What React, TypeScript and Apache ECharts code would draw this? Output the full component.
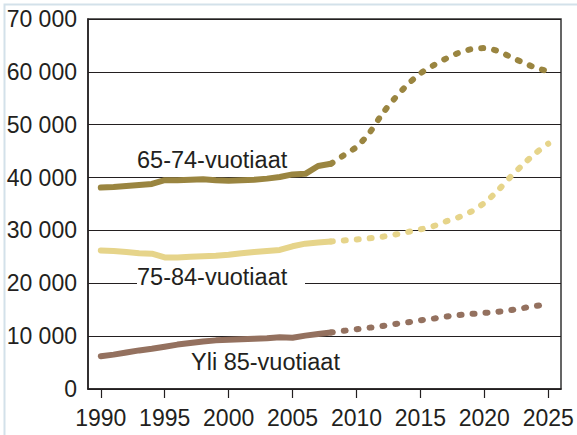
import React, { useEffect, useRef } from "react";
import * as echarts from "echarts";

const years = [1990, 1991, 1992, 1993, 1994, 1995, 1996, 1997, 1998, 1999, 2000, 2001, 2002, 2003, 2004, 2005, 2006, 2007, 2008, 2009, 2010, 2011, 2012, 2013, 2014, 2015, 2016, 2017, 2018, 2019, 2020, 2021, 2022, 2023, 2024, 2025];
const lastActualYear = 2008;

const age65_74 = [38100, 38200, 38400, 38600, 38800, 39500, 39500, 39600, 39700, 39500, 39400, 39500, 39600, 39800, 40100, 40600, 40700, 42200, 42600, 44200, 45800, 48400, 52000, 55000, 57600, 59700, 61200, 62500, 63600, 64300, 64500, 64000, 62900, 61800, 60800, 60100];
const age75_84 = [26200, 26100, 25900, 25700, 25600, 24900, 24900, 25000, 25100, 25200, 25400, 25700, 25900, 26100, 26300, 27000, 27500, 27700, 27900, 28100, 28300, 28500, 28800, 29200, 29700, 30200, 30800, 31700, 32500, 33600, 35200, 37400, 40000, 42400, 44600, 46400];
const age85plus = [6200, 6500, 6900, 7300, 7600, 8000, 8400, 8700, 9000, 9200, 9300, 9400, 9500, 9600, 9800, 9700, 10100, 10400, 10700, 11000, 11300, 11600, 11900, 12300, 12600, 13000, 13300, 13700, 14000, 14200, 14400, 14600, 14900, 15300, 15700, 16000];

const xTicks = [1990, 1995, 2000, 2005, 2010, 2015, 2020, 2025];
const seriesNames = ["65-74-vuotiaat", "75-84-vuotiaat", "Yli 85-vuotiaat"];
const seriesColors = ["#9a8540", "#e6d48a", "#94715f"];

const FONT = "'Liberation Sans', Arial, Helvetica, sans-serif";
const TEXT = "#231f20";

function actual(values: number[]) {
  return years.filter((y) => y <= lastActualYear).map((y, i) => [y, values[i]]);
}
function forecast(values: number[]) {
  return years
    .map((y, i) => [y, values[i]])
    .filter((p) => p[0] >= lastActualYear);
}

export default function App() {
  const ref = useRef<HTMLDivElement>(null);
  useEffect(() => {
    if (!ref.current) return;
    const chart = echarts.init(ref.current, null, { renderer: "svg" });
    const all = [age65_74, age75_84, age85plus];
    const series: any[] = [];
    all.forEach((vals, k) => {
      series.push({
        type: "line",
        name: seriesNames[k],
        data: actual(vals),
        showSymbol: false,
        symbol: "none",
        lineStyle: { color: seriesColors[k], width: 6, cap: "round", join: "round" },
        z: 3,
      });
      series.push({
        type: "line",
        name: seriesNames[k] + " ennuste",
        data: forecast(vals),
        showSymbol: false,
        symbol: "none",
        smooth: 0.3,
        lineStyle: { color: seriesColors[k], width: 6, type: [2, 11], cap: "round", join: "round" },
        z: 3,
      });
    });
    chart.setOption({
      animation: false,
      backgroundColor: "#ffffff",
      grid: {
        left: 88,
        right: 16,
        top: 19,
        bottom: 46,
        show: true,
        borderColor: "#333333",
        borderWidth: 1.5,
        backgroundColor: "transparent",
      },
      xAxis: {
        type: "value",
        min: 1989,
        max: 2026,
        axisLine: { show: true, lineStyle: { color: TEXT, width: 1.5 } },
        axisTick: { show: true, length: 9, customValues: xTicks, lineStyle: { color: TEXT, width: 1.2 } },
        axisLabel: {
          customValues: xTicks,
          margin: 17,
          fontSize: 23,
          fontFamily: FONT,
          color: TEXT,
          formatter: (v: number) => String(v),
        },
        splitLine: { show: false },
      },
      yAxis: {
        type: "value",
        min: 0,
        max: 70000,
        interval: 10000,
        axisLine: { show: true, lineStyle: { color: TEXT, width: 1.5 } },
        axisTick: { show: false },
        axisLabel: {
          margin: 11,
          fontSize: 23,
          fontFamily: FONT,
          color: TEXT,
          padding: [4, 0, 0, 0],
          formatter: (v: number) => (v === 0 ? "0" : String(v).replace(/\B(?=(\d{3})+(?!\d))/g, " ")),
        },
        splitLine: { show: true, lineStyle: { color: TEXT, width: 1.2 } },
      },
      graphic: [
        {
          type: "rect",
          z: 0,
          shape: { x: 4.5, y: 4.5, width: 700, height: 700 },
          style: { fill: "none", stroke: "#d3e1ea", lineWidth: 2 },
          silent: true,
        },
        {
          type: "rect",
          z: 100,
          shape: { x: 137, y: 266, width: 168, height: 24 },
          style: { fill: "#ffffff" },
          silent: true,
        },
        {
          type: "text",
          z: 101,
          style: { x: 137, y: 160, text: seriesNames[0], font: `23.5px ${FONT}`, fill: TEXT, textVerticalAlign: "middle" },
        },
        {
          type: "text",
          z: 101,
          style: { x: 137, y: 277, text: seriesNames[1], font: `23.5px ${FONT}`, fill: TEXT, textVerticalAlign: "middle" },
        },
        {
          type: "text",
          z: 101,
          style: { x: 191, y: 362, text: seriesNames[2], font: `23.5px ${FONT}`, fill: TEXT, textVerticalAlign: "middle" },
        },
      ],
      series,
    });
    return () => chart.dispose();
  }, []);
  return <div ref={ref} style={{ position: "fixed", left: 0, top: 0, width: 577, height: 435 }} />;
}
